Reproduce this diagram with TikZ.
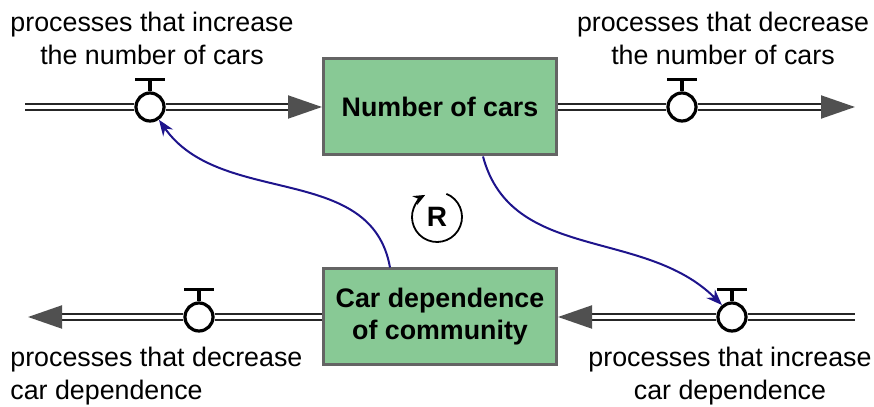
\documentclass[tikz,border=0pt]{standalone}
\usepackage{fontspec}
\setmainfont{Liberation Sans}
\usetikzlibrary{arrows.meta}
\definecolor{stockgreen}{RGB}{136,201,149}
\definecolor{stockedge}{RGB}{100,100,100}
\definecolor{tipgray}{RGB}{80,80,80}
\definecolor{linknavy}{RGB}{30,20,140}

\begin{document}
\begin{tikzpicture}[x=0.5pt,y=0.5pt]
					\tikzstyle{stock} = [rectangle,draw=stockedge,fill=stockgreen,line width=1.5pt,minimum width=116.5pt,minimum height=48pt,font=\fontsize{13.4}{16}\selectfont\bfseries,align=center]
					\tikzstyle{valve} = [circle,draw=black,fill=white,line width=1.6pt,minimum size=14pt,inner sep=0pt]
					\tikzstyle{pipe} = [draw=black!85,line width=1pt,double=white,double distance=1.6pt]
					\tikzstyle{flowtip} = [-{Triangle[length=17pt,width=11.5pt,color=tipgray]}]
					\tikzstyle{link} = [draw=linknavy,line width=1pt,-{Stealth[length=8pt,width=6pt]}]
					\tikzstyle{caption} = [font=\fontsize{13.4}{16.5}\selectfont,inner sep=0pt]
					\useasboundingbox (0,0) rectangle (874,407);
					\node[stock] (cars) at (440,300) {Number of cars};
					\node[stock] (dep) at (440,90) {Car dependence\\of community};
					\node[valve] (v1) at (150,300) {};
					\node[valve] (v2) at (682,300) {};
					\node[valve] (v3) at (199,90) {};
					\node[valve] (v4) at (732,90) {};
					\coordinate (s1) at (25,300);
					\coordinate (e2) at (855,300);
					\coordinate (e3) at (28,90);
					\coordinate (s4) at (855,90);
					\foreach \v in {v1,v2,v3,v4}
						\draw[line width=1.7pt] (\v.north) -- ++(0,12) ++(-15,0) -- ++(30,0);
					\draw[pipe] (s1)--(v1);
					\draw[pipe,flowtip] (v1)--(cars);
					\draw[pipe] (cars)--(v2);
					\draw[pipe,flowtip] (v2)--(e2);
					\draw[pipe] (dep)--(v3);
					\draw[pipe,flowtip] (v3)--(e3);
					\draw[pipe] (s4)--(v4);
					\draw[pipe,flowtip] (v4)--(dep);
					\node[caption,align=center] (c1) at (152,369) {processes that increase\\the number of cars};
					\node[caption,align=center] (c2) at (723,369) {processes that decrease\\the number of cars};
					\node[caption,align=left,anchor=west] (c3) at (10,31) {processes that decrease\\car dependence};
					\node[caption,align=center] (c4) at (730,31) {processes that increase\\car dependence};
					\node[font=\fontsize{14}{16}\selectfont\bfseries] (loop) at (437,190) {R};
					\draw[line width=0.9pt,-{Stealth[length=6pt,width=5pt]}] ([shift={(68:25)}]loop.center) arc (68:-242:25);
					\draw[link] ([xshift=-25pt]dep.north) to[out=100,in=-55] (v1.-55);
					\draw[link] ([xshift=21.5pt]cars.south) to[out=-75,in=135] (v4.130);
					\end{tikzpicture}
\end{document}
